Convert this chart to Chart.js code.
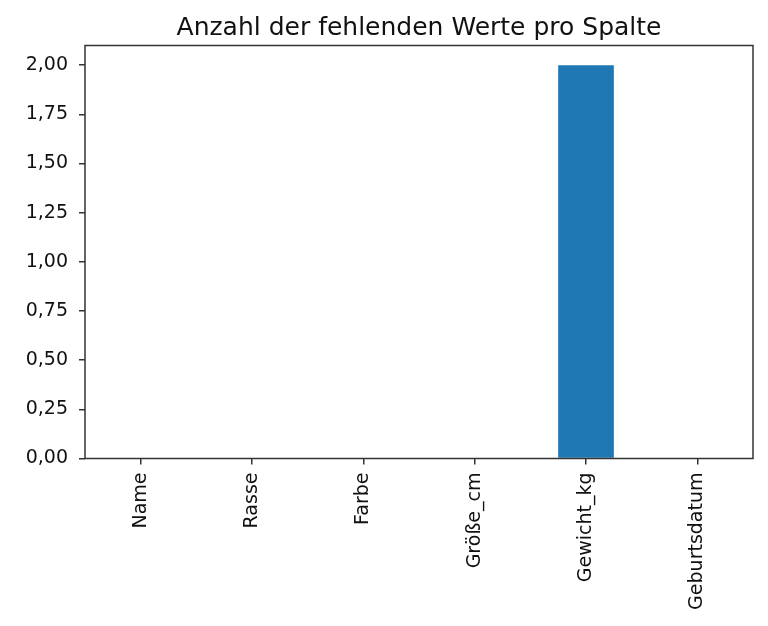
<!DOCTYPE html>
<html>
<head>
<meta charset="utf-8">
<script src="https://cdn.jsdelivr.net/npm/chart.js@4"></script>
<style>
    html, body { margin: 0; padding: 0; background: #fff; }
    #wrap { width: 768px; height: 626px; }
</style>
</head>
<body>
<div id="wrap"><canvas id="missing-chart" width="768" height="626"></canvas></div>
<script>
const columns = ['Name', 'Rasse', 'Farbe', 'Größe_cm', 'Gewicht_kg', 'Geburtsdatum'];
const missingCounts = [0, 0, 0, 0, 2, 0];
const yTicks = [0, 0.25, 0.5, 0.75, 1.0, 1.25, 1.5, 1.75, 2.0];
const chartTitle = 'Anzahl der fehlenden Werte pro Spalte';

const textColor = '#111';
const axisColor = '#333';
const fontFamily = '"DejaVu Sans", sans-serif';

// matplotlib-like frame around the plot area + title centred over it
const framePlugin = {
    id: 'frame',
    afterDatasetsDraw(chart) {
        const { ctx, chartArea: a } = chart;
        ctx.save();
        ctx.strokeStyle = axisColor;
        ctx.lineWidth = 1.5;
        ctx.strokeRect(a.left, a.top, a.right - a.left, a.bottom - a.top);
        ctx.restore();
    },
    afterDraw(chart) {
        const { ctx, chartArea: a } = chart;
        ctx.save();
        ctx.fillStyle = textColor;
        ctx.font = '25px ' + fontFamily;
        ctx.textAlign = 'center';
        ctx.textBaseline = 'alphabetic';
        ctx.fillText(chartTitle, (a.left + a.right) / 2, 34.5);
        ctx.restore();
    }
};

function renderMissingChart() {
    const canvas = document.getElementById('missing-chart');
    if (!canvas) return;

    new Chart(canvas.getContext('2d'), {
        type: 'bar',
        data: {
            labels: columns,
            datasets: [{
                data: missingCounts,
                backgroundColor: '#1f77b4',
                borderWidth: 0,
                barPercentage: 0.5,
                categoryPercentage: 1.0
            }]
        },
        options: {
            responsive: false,
            animation: false,
            devicePixelRatio: 1,
            layout: { padding: { top: 45.5, right: 15, left: 0, bottom: 0 } },
            plugins: {
                legend: { display: false },
                title: { display: false },
                tooltip: { enabled: false }
            },
            scales: {
                x: {
                    offset: true,
                    afterFit: s => { s.height = 167.5; },
                    grid: {
                        offset: false,
                        drawOnChartArea: false,
                        color: axisColor,
                        lineWidth: 1.5,
                        tickLength: 6
                    },
                    border: { display: false },
                    ticks: {
                        color: textColor,
                        font: { family: fontFamily, size: 19 },
                        minRotation: 90,
                        maxRotation: 90,
                        padding: 8,
                        autoSkip: false
                    }
                },
                y: {
                    min: 0,
                    max: 2.1,
                    afterFit: s => { s.width = 85; },
                    afterBuildTicks: s => { s.ticks = yTicks.map(v => ({ value: v })); },
                    grid: {
                        drawOnChartArea: false,
                        color: axisColor,
                        lineWidth: 1.5,
                        tickLength: 6
                    },
                    border: { display: false },
                    ticks: {
                        color: textColor,
                        font: { family: fontFamily, size: 19 },
                        padding: 11,
                        callback: v => Number(v).toFixed(2).replace('.', ',')
                    }
                }
            }
        },
        plugins: [framePlugin]
    });
}

renderMissingChart();
</script>
</body>
</html>
